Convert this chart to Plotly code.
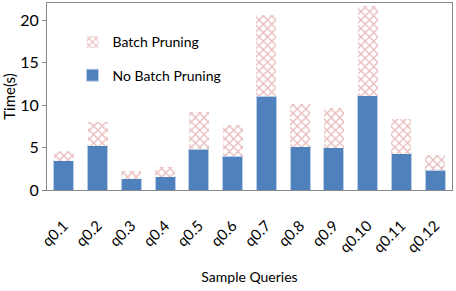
import plotly.graph_objects as go

categories = ["q0.1", "q0.2", "q0.3", "q0.4", "q0.5", "q0.6", "q0.7", "q0.8", "q0.9", "q0.10", "q0.11", "q0.12"]
no_batch = [3.45, 5.2, 1.3, 1.55, 4.8, 4.0, 11.05, 5.1, 5.0, 11.1, 4.25, 2.3]
batch = [1.15, 2.8, 0.9, 1.2, 4.35, 3.6, 9.55, 5.0, 4.6, 10.5, 4.1, 1.85]

FONT = "Lato"

fig = go.Figure()
fig.add_trace(go.Bar(
    x=categories, y=no_batch, name="No Batch Pruning",
    marker=dict(color="#4F81BD", line=dict(color="#B9CDE5", width=1)),
    legendgroup="a", legendrank=2,
))
fig.add_trace(go.Bar(
    x=categories, y=batch, name="Batch Pruning",
    marker=dict(color="white", line=dict(width=0),
                pattern=dict(shape="x", fgcolor="#D07878", bgcolor="white", size=6, solidity=0.4)),
    legendgroup="b", legendrank=1,
))

fig.update_layout(
    barmode="stack",
    bargap=0.41,
    width=456, height=291,
    margin=dict(l=47, r=4, t=3, b=101, autoexpand=False),
    paper_bgcolor="white", plot_bgcolor="white",
    font=dict(family=FONT, size=13, color="#000000"),
    legend=dict(x=0.063, y=0.875, xanchor="left", yanchor="top",
                traceorder="grouped", tracegroupgap=12, itemwidth=30,
                font=dict(size=14, family=FONT), bgcolor="rgba(0,0,0,0)"),
    xaxis=dict(tickangle=-45, tickfont=dict(size=15), showline=True, linecolor="#888888",
               linewidth=1, mirror=True, automargin=False, ticklabelstandoff=20,
               title=dict(text="Sample Queries", font=dict(size=14), standoff=17)),
    yaxis=dict(range=[0, 22], tickvals=[0, 5, 10, 15, 20], showgrid=False, automargin=False,
               showline=True, linecolor="#888888", linewidth=1, mirror=True,
               ticks="outside", ticklen=4, tickcolor="#888888", tickfont=dict(size=16),
               title=dict(text="Time(s)", font=dict(size=15), standoff=6)),
)

fig.write_html("out.html", config={"displayModeBar": False},
               post_script="document.body.style.margin='0';")
